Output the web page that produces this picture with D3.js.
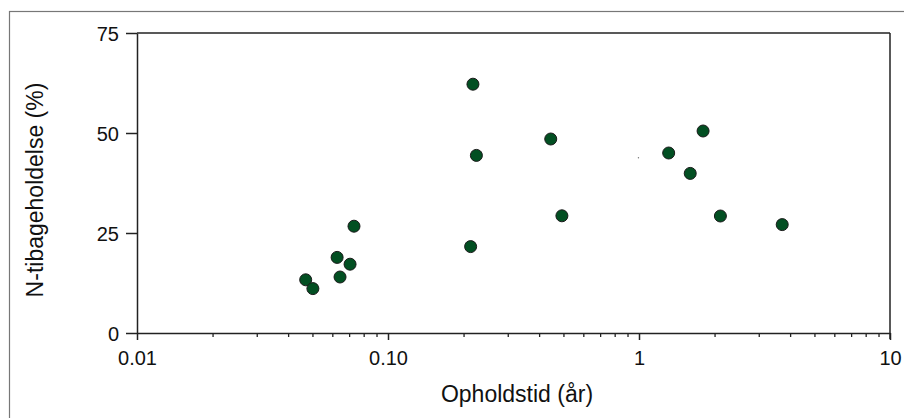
<!DOCTYPE html>
<html>
<head>
<meta charset="utf-8">
<script src="https://cdn.jsdelivr.net/npm/d3@7"></script>
<style>
  html, body { margin: 0; padding: 0; background: #fff; }
  svg { display: block; font-family: "Liberation Sans", Arial, sans-serif; }
</style>
</head>
<body>
<svg id="chart" width="904" height="418"></svg>
<script>
// Data
const residenceYears = [0.218, 0.445, 0.225, 0.493, 0.0732, 0.2134, 0.0627, 0.0706, 0.0644, 0.0470, 0.0502, 1.80, 1.313, 1.60, 2.11, 3.72];
const nRetention     = [62.2, 48.5, 44.4, 29.3, 26.7, 21.6, 18.9, 17.2, 14.0, 13.3, 11.1, 50.5, 45.0, 39.9, 29.25, 27.1];
const strayX = [0.995];
const strayY = [43.8];
const xTickValues = [0.01, 0.1, 1, 10];
const xTickLabels = ["0.01", "0.10", "1", "10"];
const yTickValues = [0, 25, 50, 75];
const xTitle = "Opholdstid (år)";
const yTitle = "N-tibageholdelse (%)";

const svg = d3.select("#chart");
const plot = { left: 137, right: 890, top: 33, bottom: 333 };
const FONT = "Liberation Sans, Arial, sans-serif";

// outer frame
svg.append("rect")
  .attr("x", 9.5).attr("y", 11.5)
  .attr("width", 900).attr("height", 420)
  .attr("fill", "none").attr("stroke", "#777").attr("stroke-width", 1.2);

const x = d3.scaleLog().domain([0.01, 10]).range([plot.left, plot.right]);
const y = d3.scaleLinear().domain([0, 75]).range([plot.bottom, plot.top]);

const axisColor = "#222";

// minor ticks for x
const minorTicks = [];
for (let dec = 0.01; dec < 10; dec *= 10) {
  for (let k = 2; k <= 9; k++) minorTicks.push(dec * k);
}

const gxMinor = svg.append("g")
  .attr("transform", `translate(0,${plot.bottom})`)
  .call(d3.axisBottom(x).tickValues(minorTicks).tickSize(4).tickFormat(""));
gxMinor.select(".domain").remove();
gxMinor.selectAll("line").attr("stroke", axisColor).attr("stroke-width", 1.3);

const gx = svg.append("g")
  .attr("transform", `translate(0,${plot.bottom})`)
  .call(d3.axisBottom(x).tickValues(xTickValues).tickSize(7).tickSizeOuter(0)
    .tickFormat((d, i) => xTickLabels[i]));
gx.select(".domain").attr("stroke", axisColor).attr("stroke-width", 1.5);
gx.selectAll("line").attr("stroke", axisColor).attr("stroke-width", 1.5);
gx.selectAll("text").attr("fill", "#111").attr("font-size", 20)
  .attr("font-family", FONT).attr("y", 32).attr("dy", 0);

const gy = svg.append("g")
  .attr("transform", `translate(${plot.left},0)`)
  .call(d3.axisLeft(y).tickValues(yTickValues).tickSize(11).tickSizeOuter(0));
gy.select(".domain").attr("stroke", axisColor).attr("stroke-width", 1.5);
gy.selectAll("line").attr("stroke", axisColor).attr("stroke-width", 1.5);
gy.selectAll("text").attr("fill", "#111").attr("font-size", 20)
  .attr("font-family", FONT).attr("x", -18).attr("dy", "0.36em");

// top and right frame lines
svg.append("line").attr("x1", plot.left).attr("x2", plot.right)
  .attr("y1", plot.top).attr("y2", plot.top)
  .attr("stroke", axisColor).attr("stroke-width", 1.5);
svg.append("line").attr("x1", plot.right).attr("x2", plot.right)
  .attr("y1", plot.top).attr("y2", plot.bottom + 6)
  .attr("stroke", axisColor).attr("stroke-width", 1.5);

// axis titles
svg.append("text")
  .attr("x", 517).attr("y", 402)
  .attr("text-anchor", "middle").attr("font-size", 23).attr("fill", "#111")
  .attr("font-family", FONT)
  .text(xTitle);
svg.append("text")
  .attr("transform", `translate(43,190) rotate(-90)`)
  .attr("text-anchor", "middle").attr("font-size", 23).attr("fill", "#111")
  .attr("font-family", FONT)
  .text(yTitle);

// stray mark
svg.append("g").selectAll("circle")
  .data(strayX.map((d, i) => [d, strayY[i]]))
  .join("circle")
  .attr("cx", d => x(d[0])).attr("cy", d => y(d[1]))
  .attr("r", 0.7).attr("fill", "#777");

// points
const pts = residenceYears.map((d, i) => ({ x: d, y: nRetention[i] }));
svg.append("g").selectAll("circle")
  .data(pts)
  .join("circle")
  .attr("cx", d => x(d.x)).attr("cy", d => y(d.y))
  .attr("r", 6)
  .attr("fill", "#024f22")
  .attr("stroke", "#1a1a1a").attr("stroke-width", 1);
</script>
</body>
</html>
